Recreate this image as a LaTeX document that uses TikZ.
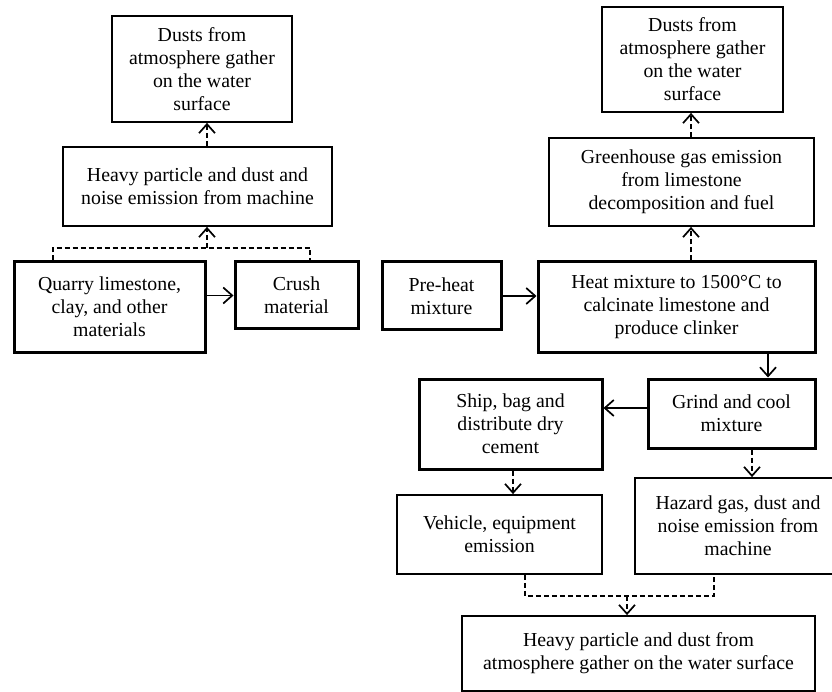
\documentclass[tikz,border=0pt]{standalone}
\usepackage{fontspec}
\setmainfont{Liberation Serif}
\usetikzlibrary{arrows.meta}
\tikzset{
  box/.style={draw, line width=1.8pt, align=center, inner sep=0pt,
    font=\fontsize{19.8}{23}\selectfont},
  thickbox/.style={box, line width=3pt},
  arr/.style={line width=1.7pt, -{Straight Barb[length=9pt,width=16pt,line width=1.7pt]}},
  darr/.style={arr, dash pattern=on 5pt off 3pt},
  dline/.style={line width=1.7pt, dash pattern=on 5pt off 3pt},
}
\begin{document}
\begin{tikzpicture}[x=1pt,y=-1pt]
\useasboundingbox (0,0) rectangle (832,692);
% left branch
\node[box, minimum width=180pt, minimum height=106pt] (d1) at (202,69) {Dusts from\\atmosphere gather\\on the water\\surface};
\node[box, minimum width=269pt, minimum height=79pt] (h1) at (197.5,186.5) {Heavy particle and dust and\\noise emission from machine};
\node[thickbox, minimum width=191pt, minimum height=90pt] (q) at (109.5,307) {Quarry limestone,\\clay, and other\\materials};
\node[thickbox, minimum width=123pt, minimum height=67pt] (c) at (296.5,295.5) {Crush\\material};
% right branch
\node[box, minimum width=181pt, minimum height=105pt] (d2) at (692.5,59.5) {Dusts from\\atmosphere gather\\on the water\\surface};
\node[box, minimum width=265pt, minimum height=88pt] (g) at (681.5,182) {Greenhouse gas emission\\from limestone\\decomposition and fuel};
\node[thickbox, minimum width=119pt, minimum height=68pt] (p) at (441.5,296) {Pre-heat\\mixture};
\node[thickbox, minimum width=277pt, minimum height=90pt] (ht) at (676.5,307) {Heat mixture to 1500°C to\\calcinate limestone and\\produce clinker};
\node[thickbox, minimum width=167pt, minimum height=69pt] (gr) at (731.5,413.5) {Grind and cool\\mixture};
\node[thickbox, minimum width=183pt, minimum height=90pt] (s) at (510.5,424) {Ship, bag and\\distribute dry\\cement};
\node[box, minimum width=206pt, minimum height=96pt] (hz) at (738,526) {Hazard gas, dust and\\noise emission from\\machine};
\node[box, minimum width=205pt, minimum height=79pt] (v) at (499.5,534.5) {Vehicle, equipment\\emission};
\node[box, minimum width=353pt, minimum height=75pt] (f) at (638.5,653.5) {Heavy particle and dust from\\atmosphere gather on the water surface};
% coordinates for connector positions
\coordinate (xa) at (207,0);
\coordinate (xq) at (53,0);
\coordinate (xc) at (310,0);
\coordinate (yb) at (0,248);
\coordinate (xg) at (691,0);
\coordinate (xh) at (768,0);
\coordinate (ygs) at (0,408);
\coordinate (xs) at (513,0);
\coordinate (xz) at (752,0);
\coordinate (xv) at (525,0);
\coordinate (xhz) at (714,0);
\coordinate (yf) at (0,596);
\coordinate (xf) at (627,0);
% left connectors
\draw[darr] (h1.north -| xa) -- (d1.south -| xa);
\draw[dline] (q.north -| xq) -- (xq |- yb) -- (xc |- yb) -- (c.north -| xc);
\draw[darr] (xa |- yb) -- (h1.south -| xa);
\draw[arr] (q.east |- c.west) -- (c.west);
% right connectors
\draw[arr] (p.east) -- (ht.west |- p.east);
\draw[darr] (ht.north -| xg) -- (g.south -| xg);
\draw[darr] (g.north -| xg) -- (d2.south -| xg);
\draw[arr] (ht.south -| xh) -- (gr.north -| xh);
\draw[arr] (gr.west |- ygs) -- (s.east |- ygs);
\draw[darr] (s.south -| xs) -- (v.north -| xs);
\draw[darr] (gr.south -| xz) -- (hz.north -| xz);
\draw[dline] (v.south -| xv) -- (xv |- yf) -- (xhz |- yf) -- (hz.south -| xhz);
\draw[darr] (xf |- yf) -- (f.north -| xf);
\end{tikzpicture}
\end{document}
